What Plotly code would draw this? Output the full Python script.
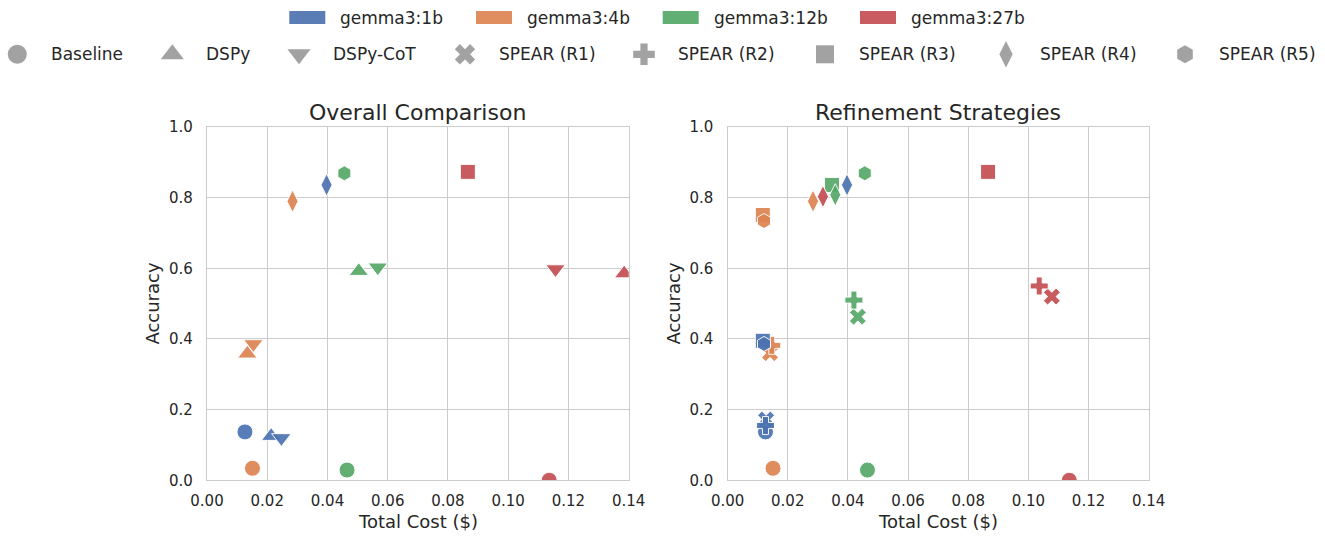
import plotly.graph_objects as go

# ---------------- data ----------------
models = ["gemma3:1b", "gemma3:4b", "gemma3:12b", "gemma3:27b"]
model_colors = ["#4C72B0", "#DD8452", "#55A868", "#C44E52"]

methods = ["Baseline", "DSPy", "DSPy-CoT", "SPEAR (R1)", "SPEAR (R2)",
           "SPEAR (R3)", "SPEAR (R4)", "SPEAR (R5)"]
method_symbols = ["circle", "triangle-up", "triangle-down", "x", "cross",
                  "square", "diamond-tall", "hexagon"]

# cost ($) and accuracy per model (order: 1b, 4b, 12b, 27b)
baseline_cost = [0.0126, 0.0151, 0.0465, 0.1136]
baseline_acc = [0.137, 0.034, 0.029, 0.0]
dspy_cost = [0.0213, 0.0134, 0.0504, 0.1385]
dspy_acc = [0.125, 0.358, 0.592, 0.585]
cot_cost = [0.0247, 0.0154, 0.0567, 0.1157]
cot_acc = [0.120, 0.386, 0.603, 0.598]
r1_cost = [0.0128, 0.0141, 0.0433, 0.1078]
r1_acc = [0.172, 0.360, 0.463, 0.520]
r2_cost = [0.0126, 0.0147, 0.0420, 0.1036]
r2_acc = [0.155, 0.382, 0.510, 0.550]
r3_cost = [0.0117, 0.0117, 0.0347, 0.0866]
r3_acc = [0.395, 0.751, 0.836, 0.873]
r4_cost = [0.0397, 0.0284, 0.0358, 0.0317]
r4_acc = [0.836, 0.790, 0.808, 0.803]
r5_cost = [0.0121, 0.0121, 0.0456, None]
r5_acc = [0.386, 0.734, 0.869, None]

x_ticks = [0.00, 0.02, 0.04, 0.06, 0.08, 0.10, 0.12, 0.14]
y_ticks = [0.0, 0.2, 0.4, 0.6, 0.8, 1.0]

# ---------------- helpers ----------------
spear_cost = [r1_cost, r2_cost, r3_cost, r4_cost, r5_cost]
spear_acc = [r1_acc, r2_acc, r3_acc, r4_acc, r5_acc]
symbol_size = {"circle": 16, "triangle-up": 17, "triangle-down": 17, "x": 15,
               "cross": 15, "square": 15, "diamond-tall": 16, "hexagon": 15}


def collect(method_idx_list, costs, accs):
    xs, ys, cs, ss = [], [], [], []
    for mi, cvals, avals in zip(method_idx_list, costs, accs):
        for k in range(len(models)):
            if cvals[k] is None:
                continue
            xs.append(cvals[k]); ys.append(avals[k])
            cs.append(model_colors[k]); ss.append(method_symbols[mi])
    return xs, ys, cs, ss


# Overall: baseline, DSPy, DSPy-CoT, and best SPEAR per model
best_cost, best_acc, best_sym = [], [], []
for k in range(len(models)):
    cands = [(spear_acc[j][k], spear_cost[j][k], j) for j in range(5) if spear_acc[j][k] is not None]
    a, c, j = max(cands)
    best_cost.append(c); best_acc.append(a); best_sym.append(method_symbols[3 + j])

lx, ly, lc, ls = collect([0, 1, 2], [baseline_cost, dspy_cost, cot_cost],
                         [baseline_acc, dspy_acc, cot_acc])
lx += best_cost; ly += best_acc; lc += model_colors; ls += best_sym

rx, ry, rc, rs = collect([0, 3, 4, 5, 6, 7],
                         [baseline_cost] + spear_cost, [baseline_acc] + spear_acc)

FONT = "DejaVu Sans"
TXT = "#262626"
GRID = "#cccccc"

fig = go.Figure()
fig.add_trace(go.Scatter(x=lx, y=ly, mode="markers", xaxis="x", yaxis="y", showlegend=False,
                         marker=dict(color=lc, symbol=ls, size=[symbol_size[s] for s in ls],
                                     opacity=0.92, line=dict(color="white", width=1))))
fig.add_trace(go.Scatter(x=rx, y=ry, mode="markers", xaxis="x2", yaxis="y2", showlegend=False,
                         marker=dict(color=rc, symbol=rs, size=[symbol_size[s] for s in rs],
                                     opacity=0.92, line=dict(color="white", width=1))))

# ---------------- legend (overlay axis in pixel units) ----------------
W, H = 1325, 536
LEG_H = 0.16 * H
patch_x = [289.3, 476.0, 662.7, 860.0]
patch_w = 36
for px, col, name in zip(patch_x, model_colors, models):
    fig.add_shape(type="rect", xref="x3", yref="y3", x0=px, x1=px + patch_w, y0=11, y1=24,
                  fillcolor=col, line=dict(width=0), opacity=0.92)
    fig.add_annotation(xref="x3", yref="y3", x=px + patch_w + 13, y=17.5, text=name,
                       showarrow=False, xanchor="left", yanchor="middle",
                       font=dict(family=FONT, size=17, color=TXT))

sym_x = [17.3, 172.3, 299.0, 465.0, 644.0, 825.0, 1006.0, 1185.0]
fig.add_trace(go.Scatter(x=sym_x, y=[54.3] * len(sym_x), mode="markers", xaxis="x3", yaxis="y3",
                         showlegend=False, hoverinfo="skip", cliponaxis=False,
                         marker=dict(color="#7a7a7a", symbol=method_symbols,
                                     size=[symbol_size[s] + 3 for s in method_symbols],
                                     line=dict(width=0))))
for sx, name in zip(sym_x, methods):
    fig.add_annotation(xref="x3", yref="y3", x=sx + 31.5, y=54.3, text=name, showarrow=False,
                       xanchor="left", yanchor="middle",
                       font=dict(family=FONT, size=17, color=TXT))

# ---------------- axes ----------------
def xax(domain):
    return dict(domain=domain, range=[0, 0.14], tickvals=x_ticks, tickformat=".2f",
                showgrid=True, gridcolor=GRID, gridwidth=1.2, zeroline=False,
                showline=True, linecolor=GRID, linewidth=1.4, mirror=True,
                ticks="outside", ticklen=6, tickcolor="rgba(0,0,0,0)",
                tickfont=dict(family=FONT, size=15, color=TXT), fixedrange=True,
                automargin=False)


def yax(anchor):
    return dict(domain=[55.7 / H, 409 / H], range=[0, 1.0], tickvals=y_ticks, tickformat=".1f",
                showgrid=True, gridcolor=GRID, gridwidth=1.2, zeroline=False,
                showline=True, linecolor=GRID, linewidth=1.4, mirror=True,
                ticks="outside", ticklen=10, tickcolor="rgba(0,0,0,0)",
                tickfont=dict(family=FONT, size=15, color=TXT), anchor=anchor, fixedrange=True,
                automargin=False)


L0, L1 = 207 / W, 628.7 / W
R0, R1 = 727.6 / W, 1148.7 / W

fig.update_layout(
    width=W, height=H, autosize=False,
    margin=dict(l=0, r=0, t=0, b=0, pad=0, autoexpand=False),
    paper_bgcolor="white", plot_bgcolor="white",
    font=dict(family=FONT, color=TXT),
    xaxis=dict(**xax([L0, L1]), anchor="y"),
    yaxis=yax("x"),
    xaxis2=dict(**xax([R0, R1]), anchor="y2"),
    yaxis2=yax("x2"),
    xaxis3=dict(domain=[0, 1], range=[0, W], visible=False, anchor="y3", fixedrange=True,
                automargin=False),
    yaxis3=dict(domain=[1 - LEG_H / H, 1], range=[LEG_H, 0], visible=False, anchor="x3",
                fixedrange=True, automargin=False),
)

# titles and axis labels
for cx, title in [((L0 + L1) / 2, "Overall Comparison"), ((R0 + R1) / 2, "Refinement Strategies")]:
    fig.add_annotation(xref="paper", yref="paper", x=cx, y=(H - 112) / H, text=title,
                       showarrow=False, xanchor="center", yanchor="middle",
                       font=dict(family=FONT, size=22, color=TXT))
    fig.add_annotation(xref="paper", yref="paper", x=cx, y=(H - 521) / H, text="Total Cost ($)",
                       showarrow=False, xanchor="center", yanchor="middle",
                       font=dict(family=FONT, size=18, color=TXT))
for ax_x in [153 / W, 674 / W]:
    fig.add_annotation(xref="paper", yref="paper", x=ax_x, y=(H - 303.6) / H, text="Accuracy",
                       showarrow=False, xanchor="center", yanchor="middle", textangle=-90,
                       font=dict(family=FONT, size=18, color=TXT))

fig.write_html(
    "out.html",
    config={"displayModeBar": False},
    post_script="document.body.style.margin='0px';document.body.style.padding='0px';"
                "document.body.style.overflow='hidden';",
)
